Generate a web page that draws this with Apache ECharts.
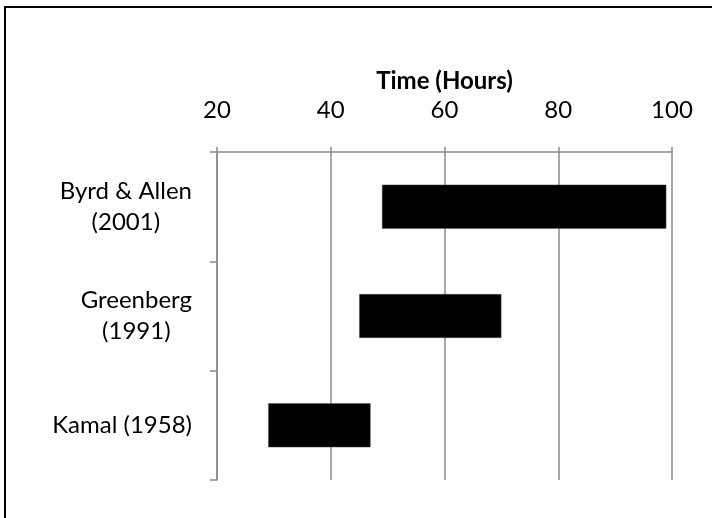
<!DOCTYPE html>
<html>
<head>
<meta charset="utf-8">
<script src="https://cdn.jsdelivr.net/npm/echarts@6/dist/echarts.min.js"></script>
<style>
html,body{margin:0;padding:0;background:#fff;}
#main{width:712px;height:518px;}
</style>
</head>
<body>
<div id="main"></div>
<script>
var categories = ['Byrd & Allen\n(2001)', 'Greenberg\n(1991)', 'Kamal (1958)'];
var starts = [49, 45, 29];
var ends = [99, 70, 47];
var xTicks = [20, 40, 60, 80, 100];

var durations = starts.map(function (s, i) { return ends[i] - s; });
var FONT = 'Lato, "Open Sans", sans-serif';
var gray = '#8a8a8a';

var chart = echarts.init(document.getElementById('main'));
chart.setOption({
  animation: false,
  backgroundColor: '#fff',
  graphic: [{
    type: 'rect',
    shape: { x: 5, y: 7, width: 1000, height: 1000 },
    style: { fill: 'none', stroke: '#000', lineWidth: 2 }
  }],
  grid: { left: 217, right: 40, top: 152, bottom: 38 },
  xAxis: {
    type: 'value',
    position: 'top',
    min: xTicks[0],
    max: xTicks[xTicks.length - 1],
    interval: 20,
    name: 'Time (Hours)',
    nameLocation: 'middle',
    nameGap: 59,
    nameTextStyle: { fontFamily: FONT, fontSize: 24, fontWeight: 'bold', color: '#000' },
    axisLine: { show: true, lineStyle: { color: gray, width: 1.5 } },
    axisTick: { show: true, length: 5, lineStyle: { color: gray, width: 1.5 } },
    splitLine: { show: true, lineStyle: { color: gray, width: 1.5 } },
    axisLabel: { fontFamily: FONT, fontSize: 24, color: '#000', margin: 30 }
  },
  yAxis: {
    type: 'category',
    inverse: true,
    data: categories,
    axisLine: { show: true, lineStyle: { color: gray, width: 1.5 } },
    axisTick: { show: true, length: 7, lineStyle: { color: gray, width: 1.5 } },
    axisLabel: {
      margin: 25,
      align: 'right',
      formatter: function (v) {
        return v.split('\n').map(function (l) { return '{c|' + l + '}'; }).join('\n');
      },
      rich: { c: { align: 'center', fontFamily: FONT, fontSize: 24, color: '#000', lineHeight: 31 } }
    }
  },
  series: [{
    type: 'bar',
    stack: 'g',
    data: starts,
    barWidth: 44,
    itemStyle: { color: 'transparent' },
    silent: true
  }, {
    type: 'bar',
    stack: 'g',
    data: durations,
    barWidth: 44,
    itemStyle: { color: '#000', borderColor: '#555', borderWidth: 0.5 }
  }]
});
</script>
</body>
</html>
